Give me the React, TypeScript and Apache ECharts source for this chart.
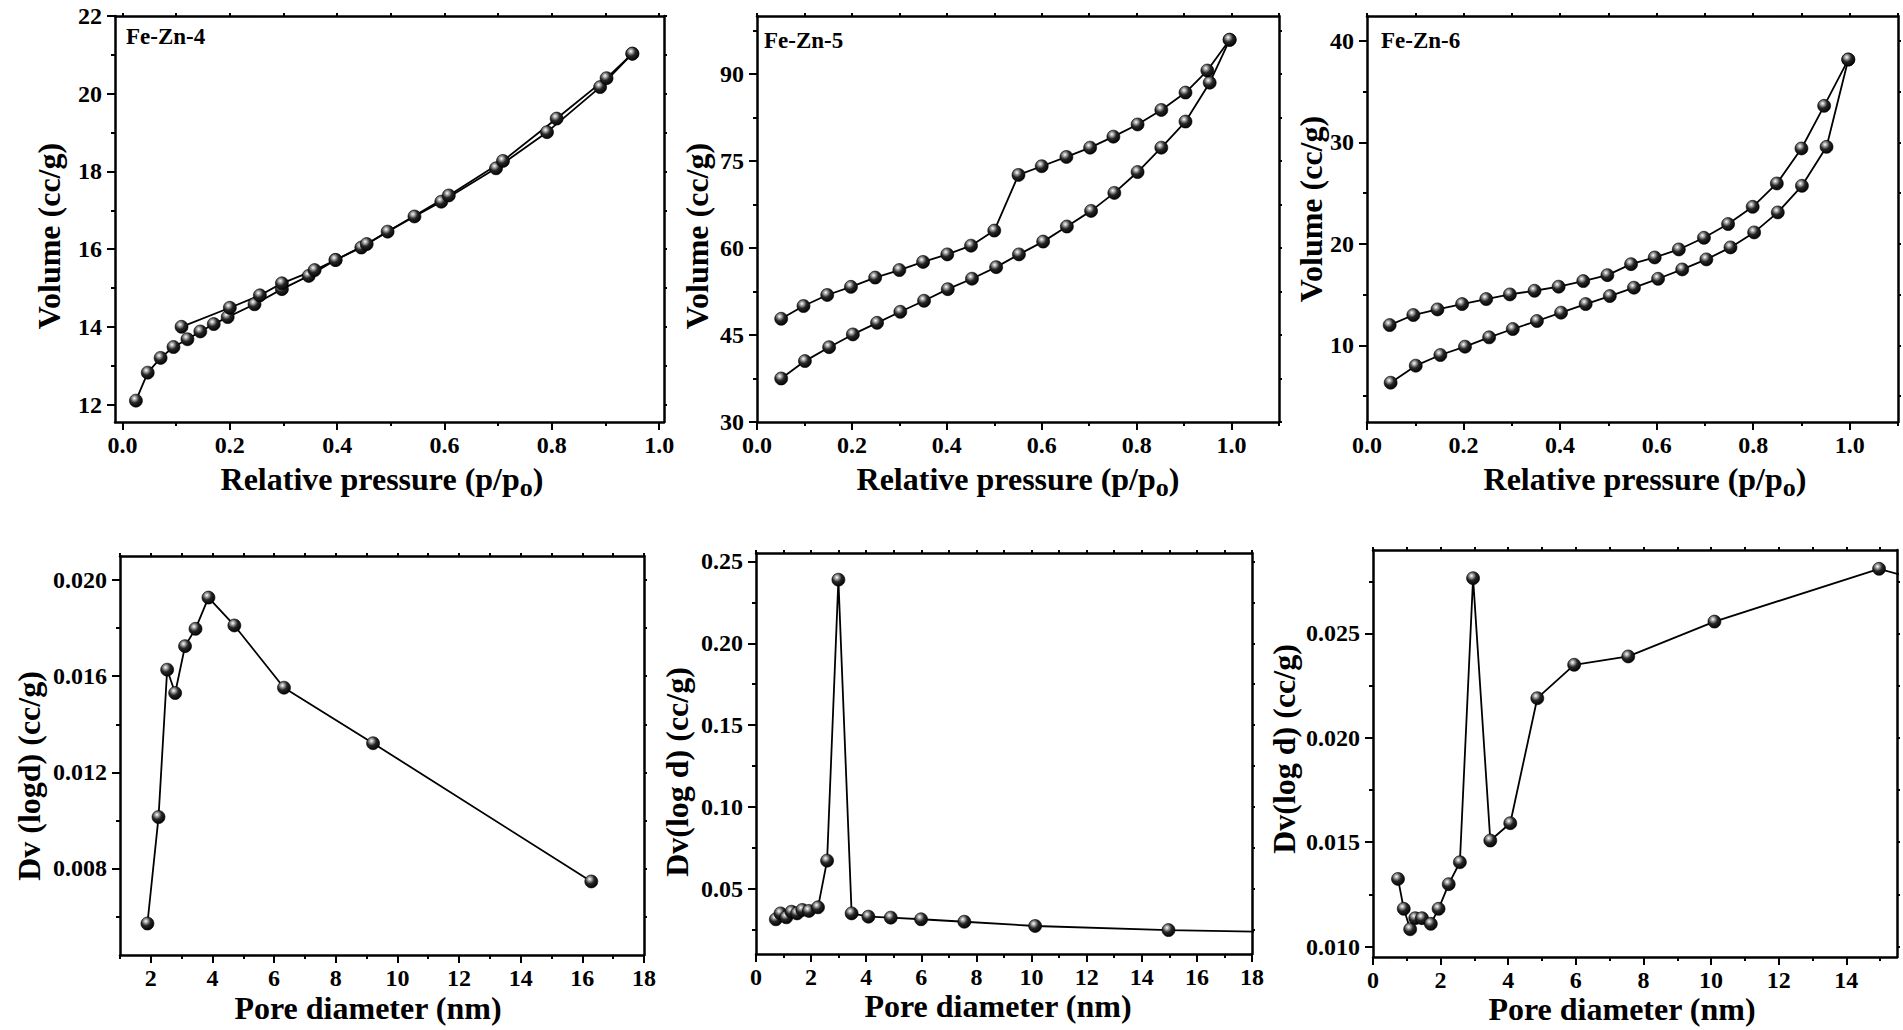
import React, { useEffect, useRef } from "react";
import * as echarts from "echarts";

// ---------- DATA ----------
// Fe-Zn-4 isotherm
const fz4AdsX = [0.025, 0.047, 0.071, 0.095, 0.121, 0.145, 0.170, 0.196, 0.246, 0.297, 0.347, 0.397, 0.445, 0.494, 0.544, 0.594, 0.696, 0.791, 0.890, 0.950];
const fz4AdsY = [12.10, 12.82, 13.20, 13.48, 13.68, 13.88, 14.07, 14.25, 14.58, 14.97, 15.31, 15.72, 16.04, 16.45, 16.84, 17.22, 18.08, 19.01, 20.17, 21.03];
const fz4DesX = [0.950, 0.902, 0.809, 0.709, 0.608, 0.455, 0.397, 0.358, 0.297, 0.256, 0.200, 0.110];
const fz4DesY = [21.03, 20.40, 19.36, 18.27, 17.38, 16.13, 15.72, 15.46, 15.12, 14.81, 14.49, 14.00];

// Fe-Zn-5 isotherm
const fz5AdsX = [0.051, 0.101, 0.152, 0.202, 0.253, 0.302, 0.352, 0.402, 0.453, 0.504, 0.552, 0.603, 0.653, 0.704, 0.753, 0.802, 0.852, 0.903, 0.954, 0.996];
const fz5AdsY = [37.5, 40.5, 42.9, 45.1, 47.1, 49.0, 50.9, 52.9, 54.7, 56.7, 58.9, 61.1, 63.7, 66.4, 69.5, 73.1, 77.3, 81.8, 88.5, 95.9];
const fz5DesX = [0.996, 0.949, 0.903, 0.852, 0.802, 0.751, 0.702, 0.652, 0.600, 0.551, 0.500, 0.451, 0.401, 0.350, 0.300, 0.249, 0.198, 0.148, 0.098, 0.051];
const fz5DesY = [95.9, 90.6, 86.8, 83.8, 81.3, 79.2, 77.3, 75.7, 74.1, 72.6, 63.0, 60.4, 58.9, 57.6, 56.2, 54.9, 53.3, 51.9, 50.0, 47.8];

// Fe-Zn-6 isotherm
const fz6AdsX = [0.049, 0.101, 0.152, 0.203, 0.253, 0.302, 0.352, 0.402, 0.453, 0.503, 0.553, 0.603, 0.653, 0.703, 0.753, 0.802, 0.851, 0.901, 0.952, 0.997];
const fz6AdsY = [6.32, 8.0, 9.05, 9.87, 10.79, 11.61, 12.40, 13.22, 14.07, 14.86, 15.68, 16.56, 17.48, 18.47, 19.65, 21.13, 23.10, 25.72, 29.56, 38.16];
const fz6DesX = [0.997, 0.947, 0.900, 0.849, 0.799, 0.748, 0.698, 0.646, 0.596, 0.547, 0.498, 0.448, 0.397, 0.347, 0.296, 0.247, 0.197, 0.146, 0.096, 0.047];
const fz6DesY = [38.16, 33.6, 29.4, 25.95, 23.65, 21.95, 20.6, 19.45, 18.66, 18.0, 16.92, 16.33, 15.78, 15.38, 15.02, 14.56, 14.07, 13.54, 12.99, 12.0];

// Pore size distributions
const psd4X = [1.89, 2.25, 2.53, 2.79, 3.11, 3.45, 3.87, 4.71, 6.32, 9.21, 16.29];
const psd4Y = [0.00571, 0.01014, 0.01627, 0.0153, 0.01725, 0.01797, 0.01927, 0.01811, 0.01552, 0.01321, 0.00746];

const psd5X = [0.72, 0.89, 1.10, 1.29, 1.49, 1.68, 1.92, 2.25, 2.58, 2.99, 3.47, 4.08, 4.89, 5.99, 7.56, 10.13, 14.97, 25.0];
const psd5Y = [0.0315, 0.0351, 0.0327, 0.0361, 0.0351, 0.0372, 0.0366, 0.0388, 0.0673, 0.2388, 0.0351, 0.0331, 0.0325, 0.0315, 0.0300, 0.0274, 0.0249, 0.0220];

const psd6X = [0.74, 0.91, 1.10, 1.25, 1.45, 1.71, 1.94, 2.24, 2.57, 2.96, 3.47, 4.06, 4.86, 5.95, 7.55, 10.10, 14.97, 20.0];
const psd6Y = [0.01324, 0.01181, 0.01083, 0.01136, 0.01136, 0.01109, 0.01181, 0.01299, 0.01404, 0.02765, 0.01508, 0.01591, 0.0219, 0.0235, 0.0239, 0.02557, 0.0281, 0.0258];

// Tick values
const isoXMajor = [0, 0.2, 0.4, 0.6, 0.8, 1.0];
const isoXMinor1 = [0.1, 0.3, 0.5, 0.7, 0.9];
const isoXMinor = [0.1, 0.3, 0.5, 0.7, 0.9, 1.1];
const fz4YMajor = [12, 14, 16, 18, 20, 22];
const fz4YMinor = [13, 15, 17, 19, 21];
const fz5YMajor = [30, 45, 60, 75, 90];
const fz5YMinor = [37.5, 52.5, 67.5, 82.5, 97.5];
const fz6YMajor = [10, 20, 30, 40];
const fz6YMinor = [5, 15, 25, 35];
const psd4XMajor = [2, 4, 6, 8, 10, 12, 14, 16, 18];
const psd4XMinor = [1, 3, 5, 7, 9, 11, 13, 15, 17];
const psd4YMajor = [0.008, 0.012, 0.016, 0.020];
const psd4YMinor = [0.006, 0.010, 0.014, 0.018];
const psd5XMajor = [0, 2, 4, 6, 8, 10, 12, 14, 16, 18];
const psd5XMinor = [1, 3, 5, 7, 9, 11, 13, 15, 17];
const psd5YMajor = [0.05, 0.10, 0.15, 0.20, 0.25];
const psd5YMinor = [0.025, 0.075, 0.125, 0.175, 0.225];
const psd6XMajor = [0, 2, 4, 6, 8, 10, 12, 14];
const psd6XMinor = [1, 3, 5, 7, 9, 11, 13, 15];
const psd6YMajor = [0.010, 0.015, 0.020, 0.025];
const psd6YMinor = [0.0125, 0.0175, 0.0225, 0.0275];

// ---------- STYLE / LAYOUT ----------
const FONT = "'Liberation Serif', 'Times New Roman', Times, serif";

const zip = (xs: number[], ys: number[]) => xs.map((x, i) => [x, ys[i]]);

type Panel = {
  rect: [number, number, number, number];
  xr: [number, number];
  yr: [number, number];
  xMajor: number[];
  xMinor: number[];
  yMajor: number[];
  yMinor: number[];
  xDec: number;
  yDec: number;
  series: number[][][];
  label?: [string, number, number];
  xTitle: [string, number, number];
  yTitle: [string, number, number];
};

const panels: Panel[] = [
  {
    rect: [115, 16, 664, 422], xr: [-0.014, 1.009], yr: [11.55, 22],
    xMajor: isoXMajor, xMinor: isoXMinor1, yMajor: fz4YMajor, yMinor: fz4YMinor, xDec: 1, yDec: 0,
    series: [zip(fz4AdsX, fz4AdsY), zip(fz4DesX, fz4DesY)],
    label: ["Fe-Zn-4", 126, 36],
    xTitle: ["Relative pressure (p/p{s|o})", 382, 479], yTitle: ["Volume (cc/g)", 49, 236],
  },
  {
    rect: [757, 16, 1279, 422], xr: [0, 1.1], yr: [30, 100],
    xMajor: isoXMajor, xMinor: isoXMinor, yMajor: fz5YMajor, yMinor: fz5YMinor, xDec: 1, yDec: 0,
    series: [zip(fz5AdsX, fz5AdsY), zip(fz5DesX, fz5DesY)],
    label: ["Fe-Zn-5", 764, 40],
    xTitle: ["Relative pressure (p/p{s|o})", 1018, 479], yTitle: ["Volume (cc/g)", 697, 236],
  },
  {
    rect: [1367, 16, 1898, 422], xr: [0, 1.1], yr: [2.45, 42.45],
    xMajor: isoXMajor, xMinor: isoXMinor, yMajor: fz6YMajor, yMinor: fz6YMinor, xDec: 1, yDec: 0,
    series: [zip(fz6AdsX, fz6AdsY), zip(fz6DesX, fz6DesY)],
    label: ["Fe-Zn-6", 1381, 40],
    xTitle: ["Relative pressure (p/p{s|o})", 1645, 479], yTitle: ["Volume (cc/g)", 1311, 209],
  },
  {
    rect: [120, 556, 644, 955], xr: [1, 18], yr: [0.0044, 0.0210],
    xMajor: psd4XMajor, xMinor: psd4XMinor, yMajor: psd4YMajor, yMinor: psd4YMinor, xDec: 0, yDec: 3,
    series: [zip(psd4X, psd4Y)],
    xTitle: ["Pore diameter (nm)", 368, 1008], yTitle: ["Dv (logd) (cc/g)", 29, 776],
  },
  {
    rect: [756, 553, 1252, 954], xr: [0, 18], yr: [0.0103, 0.2551],
    xMajor: psd5XMajor, xMinor: psd5XMinor, yMajor: psd5YMajor, yMinor: psd5YMinor, xDec: 0, yDec: 2,
    series: [zip(psd5X, psd5Y)],
    xTitle: ["Pore diameter (nm)", 998, 1006], yTitle: ["Dv(log d) (cc/g)", 677, 772],
  },
  {
    rect: [1373, 550, 1897, 957], xr: [0, 15.5], yr: [0.0095, 0.0290],
    xMajor: psd6XMajor, xMinor: psd6XMinor, yMajor: psd6YMajor, yMinor: psd6YMinor, xDec: 0, yDec: 3,
    series: [zip(psd6X, psd6Y)],
    xTitle: ["Pore diameter (nm)", 1622, 1009], yTitle: ["Dv(log d) (cc/g)", 1284, 749],
  },
];

const ball = {
  type: "radial",
  x: 0.38,
  y: 0.32,
  r: 0.72,
  colorStops: [
    { offset: 0, color: "#ffffff" },
    { offset: 0.2, color: "#a8a8a8" },
    { offset: 0.5, color: "#262626" },
    { offset: 1, color: "#000000" },
  ],
};

const lineSt = { color: "#000", width: 2.5 };
const tickSt = { color: "#000", width: 2 };

function buildOption() {
  const grid: any[] = [];
  const xAxis: any[] = [];
  const yAxis: any[] = [];
  const series: any[] = [];
  const graphic: any[] = [];

  panels.forEach((p, i) => {
    const [l, t, r, b] = p.rect;
    grid.push({ left: l, top: t, width: r - l, height: b - t, containLabel: false, outerBoundsMode: "none" });
    const labelStyle = (vals: number[], dec: number, margin: number) => ({
      show: true,
      customValues: vals,
      formatter: (v: any) => Number(v).toFixed(dec),
      margin,
      color: "#000",
      fontFamily: FONT,
      fontWeight: "bold",
      fontSize: 24,
      lineHeight: 24,
    });
    const common = { type: "value", gridIndex: i, splitLine: { show: false } };
    // X axes
    xAxis.push({
      ...common, position: "bottom", min: p.xr[0], max: p.xr[1],
      axisLine: { show: true, onZero: false, lineStyle: lineSt },
      axisTick: { show: true, inside: false, length: 8, lineStyle: tickSt, customValues: p.xMajor },
      axisLabel: labelStyle(p.xMajor, p.xDec, 11),
    });
    xAxis.push({
      ...common, position: "bottom", min: p.xr[0], max: p.xr[1],
      axisLine: { show: false, onZero: false },
      axisTick: { show: true, inside: false, length: 4, lineStyle: tickSt, customValues: p.xMinor },
      axisLabel: { show: false },
    });
    xAxis.push({
      ...common, position: "top", min: p.xr[0], max: p.xr[1],
      axisLine: { show: true, onZero: false, lineStyle: lineSt },
      axisTick: { show: true, inside: false, length: 3, lineStyle: tickSt, customValues: [...p.xMajor, ...p.xMinor] },
      axisLabel: { show: false },
    });
    // Y axes
    yAxis.push({
      ...common, position: "left", min: p.yr[0], max: p.yr[1],
      axisLine: { show: true, onZero: false, lineStyle: lineSt },
      axisTick: { show: true, inside: false, length: 8, lineStyle: tickSt, customValues: p.yMajor },
      axisLabel: labelStyle(p.yMajor, p.yDec, 13),
    });
    yAxis.push({
      ...common, position: "left", min: p.yr[0], max: p.yr[1],
      axisLine: { show: false, onZero: false },
      axisTick: { show: true, inside: false, length: 4, lineStyle: tickSt, customValues: p.yMinor },
      axisLabel: { show: false },
    });
    yAxis.push({
      ...common, position: "right", min: p.yr[0], max: p.yr[1],
      axisLine: { show: true, onZero: false, lineStyle: lineSt },
      axisTick: { show: true, inside: false, length: 3, lineStyle: tickSt, customValues: [...p.yMajor, ...p.yMinor] },
      axisLabel: { show: false },
    });

    p.series.forEach((d) => {
      series.push({
        type: "line",
        xAxisIndex: i * 3,
        yAxisIndex: i * 3,
        data: d,
        clip: true,
        symbol: "circle",
        symbolSize: 13,
        showSymbol: true,
        lineStyle: { color: "#000", width: 1.8 },
        itemStyle: { color: ball, borderColor: "#000", borderWidth: 0.6 },
        emphasis: { disabled: true },
      });
    });

    if (p.label) {
      graphic.push({
        type: "text",
        x: p.label[1],
        y: p.label[2],
        style: { text: p.label[0], fill: "#000", font: `bold 23px ${FONT}`, align: "left", verticalAlign: "middle" },
      });
    }
    graphic.push({
      type: "text",
      x: p.xTitle[1],
      y: p.xTitle[2],
      style: {
        text: p.xTitle[0],
        fill: "#000",
        font: `bold 32px ${FONT}`,
        align: "center",
        verticalAlign: "middle",
        rich: {
          s: { fontSize: 26, fontWeight: "bold", fontFamily: FONT, fill: "#000", padding: [16, 0, 0, 0] },
        },
      },
    });
    graphic.push({
      type: "text",
      x: p.yTitle[1],
      y: p.yTitle[2],
      rotation: Math.PI / 2,
      style: { text: p.yTitle[0], fill: "#000", font: `bold 32px ${FONT}`, align: "center", verticalAlign: "middle" },
    });
  });

  return {
    animation: false,
    backgroundColor: "#ffffff",
    grid,
    xAxis,
    yAxis,
    series,
    graphic,
  };
}

export default function App() {
  const ref = useRef<HTMLDivElement>(null);
  useEffect(() => {
    if (!ref.current) return;
    const chart = echarts.init(ref.current, null, { renderer: "svg" });
    chart.setOption(buildOption() as any);
    return () => chart.dispose();
  }, []);
  return (
    <div
      ref={ref}
      style={{ position: "absolute", left: 0, top: 0, width: 1903, height: 1030, background: "#fff" }}
    />
  );
}
